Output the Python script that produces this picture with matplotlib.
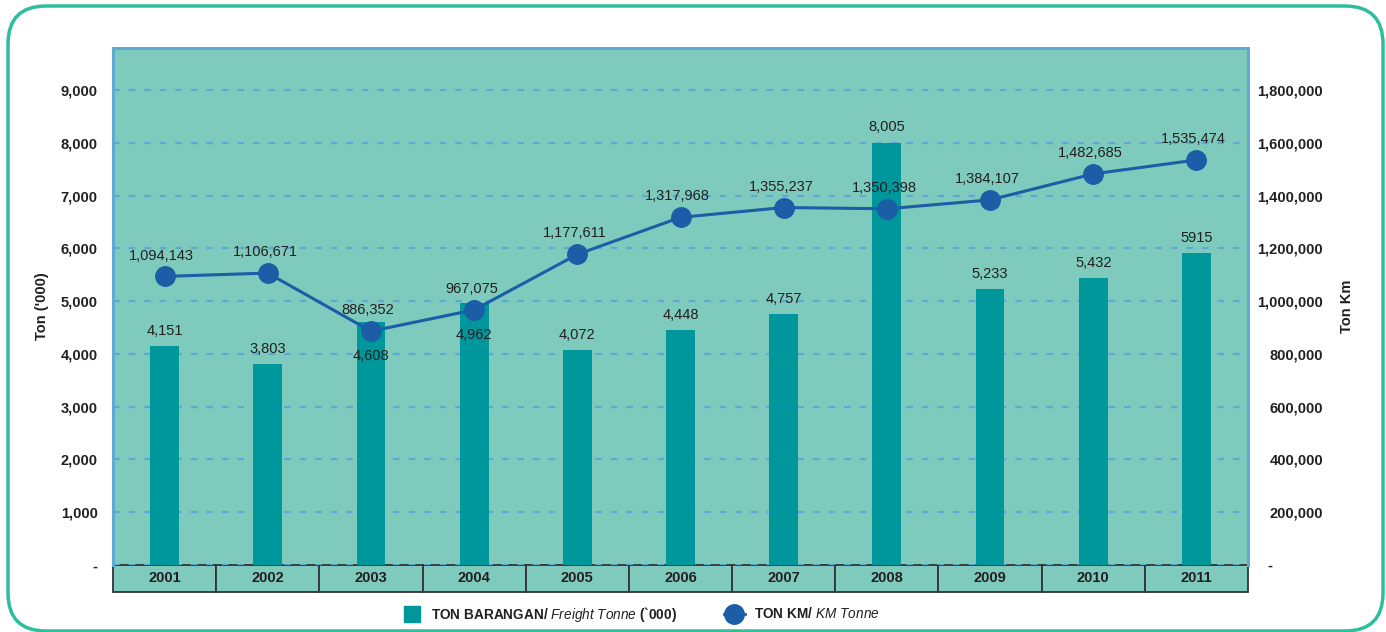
import matplotlib
matplotlib.use('Agg')
import matplotlib.pyplot as plt
from matplotlib.lines import Line2D
from matplotlib.patches import FancyBboxPatch
from matplotlib.ticker import FuncFormatter

plt.rcParams['font.family'] = ['Liberation Sans', 'DejaVu Sans']
plt.rcParams['mathtext.fontset'] = 'custom'
plt.rcParams['mathtext.rm'] = 'Liberation Sans'
plt.rcParams['mathtext.it'] = 'Liberation Sans:italic'
plt.rcParams['mathtext.bf'] = 'Liberation Sans:bold'

# data
years = ['2001', '2002', '2003', '2004', '2005', '2006', '2007', '2008', '2009', '2010', '2011']
freight_tonne = [4151, 3803, 4608, 4962, 4072, 4448, 4757, 8005, 5233, 5432, 5915]
km_tonne = [1094143, 1106671, 886352, 967075, 1177611, 1317968, 1355237, 1350398, 1384107, 1482685, 1535474]
bar_text = ['4,151', '3,803', '4,608', '4,962', '4,072', '4,448', '4,757', '8,005', '5,233', '5,432', '5915']
left_ticks = [0, 1000, 2000, 3000, 4000, 5000, 6000, 7000, 8000, 9000]
right_ticks = [0, 200000, 400000, 600000, 800000, 1000000, 1200000, 1400000, 1600000, 1800000]

bg = '#7ECBBE'
bar_col = '#00979C'
line_col = '#1B5DA6'
grid_col = '#5DA9D6'
txt_col = '#231F20'

fig = plt.figure(figsize=(13.86, 6.32), dpi=100)
ax = fig.add_axes([113 / 1386, 1 - 565 / 632, (1248 - 113) / 1386, (565 - 48) / 632])
ax2 = ax.twinx()

x = list(range(len(years)))
ax.set_facecolor(bg)
ax.bar(x, freight_tonne, width=0.28, color=bar_col, zorder=2)
ax.set_xlim(-0.5, len(years) - 0.5)
ax.set_ylim(0, 9800)
ax2.set_ylim(0, 1960000)

ax.set_axisbelow(True)
ax.yaxis.grid(True, color=grid_col, lw=1.6, linestyle=(0, (3, 4)))
ax.set_yticks(left_ticks)
ax2.set_yticks(right_ticks)
fmt_l = FuncFormatter(lambda v, p: '-' if v == 0 else f'{v:,.0f}')
fmt_r = FuncFormatter(lambda v, p: '-' + ' ' * 12 if v == 0 else f'{v:,.0f}')
ax.yaxis.set_major_formatter(fmt_l)
ax2.yaxis.set_major_formatter(fmt_r)
ax.tick_params(axis='y', length=0, pad=11, labelsize=10.5, labelcolor=txt_col)
ax2.tick_params(axis='y', length=0, pad=54, labelsize=10.5, labelcolor=txt_col)
for lab in ax.get_yticklabels() + ax2.get_yticklabels():
    lab.set_fontweight('bold')
for lab in ax2.get_yticklabels():
    lab.set_horizontalalignment('right')
ax.set_xticks([])

for a in (ax, ax2):
    for s in ('left', 'top', 'right'):
        a.spines[s].set_color('#5EAAD3')
        a.spines[s].set_linewidth(2)
    a.spines['bottom'].set_visible(False)

ax.set_ylabel("Ton ('000)", fontsize=10.5, fontweight='bold', color=txt_col)
ax2.set_ylabel('Ton Km', fontsize=10.5, fontweight='bold', color=txt_col, rotation=90)
ax.yaxis.set_label_coords(-0.056, 0.5)
ax2.yaxis.set_label_coords(1.081, 0.5)

# line
ax2.plot(x, km_tonne, color=line_col, lw=2.2, marker='o', ms=14, zorder=3)

# labels
below = {2, 3}
for i in x:
    if i in below:
        ax2.annotate(bar_text[i], (i, km_tonne[i]), xytext=(0, -13), textcoords='offset points',
                     ha='center', va='top', fontsize=10.5, color=txt_col, zorder=4)
    else:
        ax.annotate(bar_text[i], (i, freight_tonne[i]), xytext=(0, 6), textcoords='offset points',
                    ha='center', va='bottom', fontsize=10.5, color=txt_col)
    ax2.annotate(f'{km_tonne[i]:,}', (i, km_tonne[i]), xytext=(-2, 10), textcoords='offset points',
                 ha='center', va='bottom', fontsize=10.5, color=txt_col, zorder=4)

# year table under the plot
tab = ax.table(cellText=[years], cellLoc='center', bbox=[0, -27 / 517, 1, 27 / 517])
tab.auto_set_font_size(False)
for cell in tab.get_celld().values():
    cell.set_facecolor(bg)
    cell.set_edgecolor('#333333')
    cell.set_linewidth(1.3)
    cell.get_text().set_fontsize(10.5)
    cell.get_text().set_fontweight('bold')
    cell.get_text().set_color(txt_col)

# legend
handles = [Line2D([], [], color=bar_col, marker='s', ms=11, lw=0),
           Line2D([], [], color=line_col, marker='o', ms=14, lw=2)]
labels = [r"TON BARANGAN/ $\mathit{Freight\ Tonne}$ (`000)",
          r"TON KM/ $\mathit{KM\ Tonne}$"]
fig.legend(handles, labels, loc='center', bbox_to_anchor=(0.462, 1 - 614 / 632), ncol=2,
           frameon=False, prop={'weight': 'bold', 'size': 9.8}, columnspacing=3.4,
           handlelength=1.6, handletextpad=0.6, labelcolor=txt_col)

# rounded frame
frame = FancyBboxPatch((0.08, 0.01), 13.75, 6.25, boxstyle='round,pad=0,rounding_size=0.38',
                       transform=fig.dpi_scale_trans, fill=False, ec='#2DBE9E', lw=2.5)
fig.add_artist(frame)

fig.savefig('out.png', dpi=100)
